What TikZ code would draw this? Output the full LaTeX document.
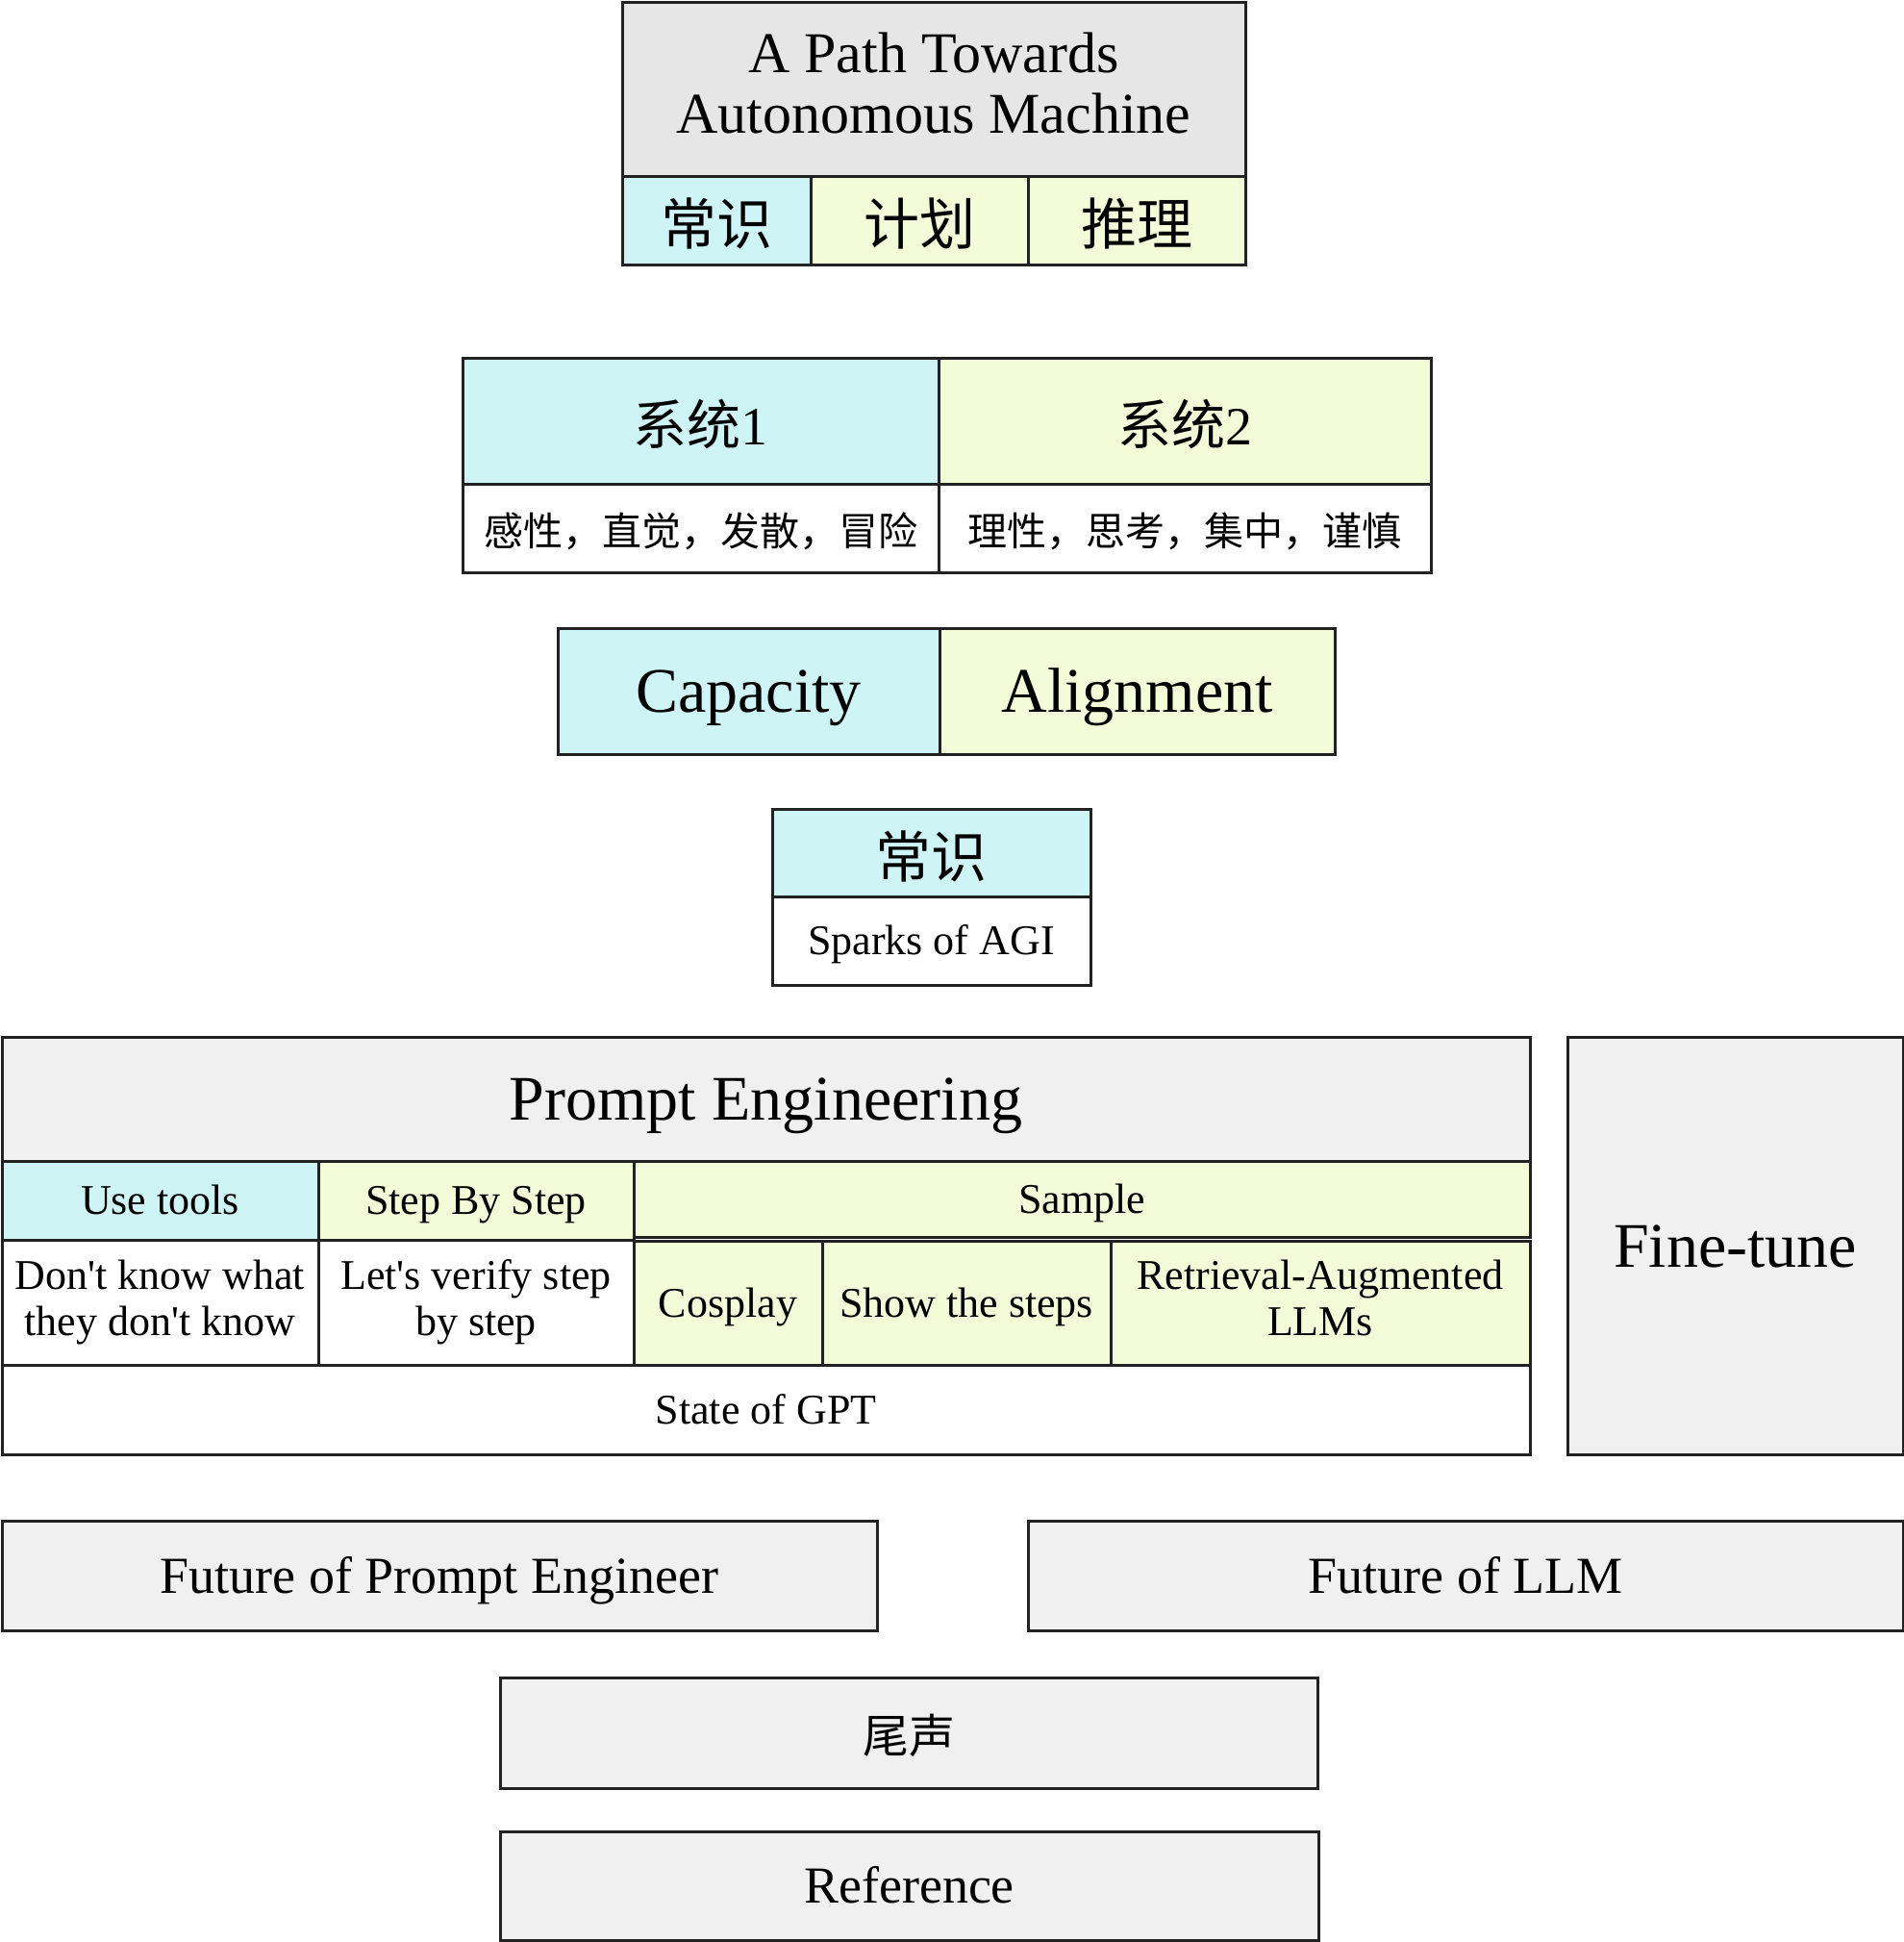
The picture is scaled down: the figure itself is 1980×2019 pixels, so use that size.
\documentclass[tikz,border=0pt]{standalone}
\usepackage{fontspec}
\setmainfont{Liberation Serif}
\newfontfamily\cjk{Noto Sans CJK SC}
\usepackage{tikz}
\usetikzlibrary{positioning}
\definecolor{capcyan}{HTML}{CFF4F6}
\definecolor{aliyellow}{HTML}{F4FBD8}
\definecolor{topgray}{HTML}{E6E6E6}
\definecolor{boxgray}{HTML}{F0F0F0}
\definecolor{edge}{HTML}{222222}
\def \cellstrut {\rule[-0.22em]{0pt}{1.12em}}
\def \cjkstrut {\rule{0pt}{1.1em}}
\def \titlestrut {\rule{0pt}{1.03em}}
\tikzstyle{cell} = [draw=edge,line width=1.5pt,rectangle,inner sep=0,align=center,execute at begin node=\cellstrut,execute at end node=\cellstrut]
\tikzstyle{cyancell} = [cell,fill=capcyan]
\tikzstyle{yelcell} = [cell,fill=aliyellow]
\tikzstyle{graycell} = [cell,fill=boxgray]
\tikzstyle{whitecell} = [cell,fill=white]
\tikzstyle{big} = [font=\fontsize{33}{34}\selectfont]
\tikzstyle{mid} = [font=\fontsize{27}{30}\selectfont]
\tikzstyle{small} = [font=\fontsize{22}{24}\selectfont]
\tikzstyle{hanzi} = [execute at begin node=\cjkstrut]
\def \u {0.5pt}

\begin{document}
\begin{tikzpicture}[x=0.5pt,y=-0.5pt]
      \useasboundingbox (0,0) rectangle (1980,2019);
      % top block
      \node[cell,fill=topgray,minimum width=648*\u,minimum height=181*\u,font=\fontsize{30}{31.5}\selectfont,execute at begin node=\titlestrut] (path) at (971,92.5) {A Path Towards\\Autonomous Machine};
      \node[cyancell,hanzi,minimum width=196*\u,minimum height=92*\u,font=\cjk\fontsize{29}{30}\selectfont] (sense) at (745,229) {常识};
      \node[yelcell,hanzi,minimum width=226*\u,minimum height=92*\u,font=\cjk\fontsize{29}{30}\selectfont] (plan) at (956,229) {计划};
      \node[yelcell,hanzi,minimum width=226*\u,minimum height=92*\u,font=\cjk\fontsize{29}{30}\selectfont] (reason) at (1182,229) {推理};
      % system 1 / system 2
      \node[cyancell,hanzi,minimum width=495*\u,minimum height=131*\u,font=\fontsize{28}{30}\selectfont] (sysa) at (728.5,437.5) {{\cjk 系统}1};
      \node[yelcell,hanzi,minimum width=512*\u,minimum height=131*\u,font=\fontsize{28}{30}\selectfont] (sysb) at (1232,437.5) {{\cjk 系统}2};
      \node[whitecell,hanzi,minimum width=495*\u,minimum height=92*\u,font=\cjk\fontsize{20.5}{22}\selectfont] (sysadesc) at (728.5,549) {感性，直觉，发散，冒险};
      \node[whitecell,hanzi,minimum width=512*\u,minimum height=92*\u,font=\cjk\fontsize{20.5}{22}\selectfont] (sysbdesc) at (1232,549) {理性，思考，集中，谨慎};
      % capacity / alignment
      \node[cyancell,big,minimum width=397*\u,minimum height=131*\u] (capacity) at (778.5,718.5) {Capacity};
      \node[yelcell,big,minimum width=411*\u,minimum height=131*\u] (alignment) at (1182.5,718.5) {Alignment};
      % sparks
      \node[cyancell,hanzi,minimum width=331*\u,minimum height=91*\u,font=\cjk\fontsize{29}{30}\selectfont] (common) at (968.5,886.5) {常识};
      \node[whitecell,small,minimum width=331*\u,minimum height=92*\u] (sparks) at (968.5,978) {Sparks of AGI};
      % prompt engineering
      \node[graycell,big,minimum width=1589*\u,minimum height=129*\u] (prompt) at (796.5,1142.5) {Prompt Engineering};
      \node[cyancell,small,minimum width=329*\u,minimum height=82*\u] (tools) at (166.5,1248) {Use tools};
      \node[yelcell,small,minimum width=328*\u,minimum height=82*\u] (stepwise) at (495,1248) {Step By Step};
      \node[yelcell,small,minimum width=932*\u,minimum height=79*\u] (sample) at (1125,1246.5) {Sample};
      \node[whitecell,small,minimum width=329*\u,minimum height=130*\u] (unknown) at (166.5,1354) {Don\textquotesingle t know what\\they don\textquotesingle t know};
      \node[whitecell,small,minimum width=328*\u,minimum height=130*\u] (verify) at (495,1354) {Let\textquotesingle s verify step\\by step};
      \node[yelcell,small,minimum width=196*\u,minimum height=129*\u] (cosplay) at (757,1354.5) {Cosplay};
      \node[yelcell,small,minimum width=300*\u,minimum height=129*\u] (showsteps) at (1005,1354.5) {Show the steps};
      \node[yelcell,small,minimum width=436*\u,minimum height=129*\u] (retrieval) at (1373,1354.5) {Retrieval-Augmented\\LLMs};
      \node[whitecell,small,minimum width=1589*\u,minimum height=93*\u] (stategpt) at (796.5,1465.5) {State of GPT};
      \node[graycell,big,minimum width=349*\u,minimum height=434*\u] (finetune) at (1804.5,1295) {Fine-tune};
      % closing rows
      \node[graycell,mid,minimum width=910*\u,minimum height=114*\u] (futprompt) at (457,1638) {Future of Prompt Engineer};
      \node[graycell,mid,minimum width=910*\u,minimum height=114*\u] (futllm) at (1524,1638) {Future of LLM};
      \node[graycell,hanzi,minimum width=850*\u,minimum height=115*\u,font=\cjk\fontsize{24}{26}\selectfont] (epilogue) at (945,1801.5) {尾声};
      \node[graycell,mid,minimum width=851*\u,minimum height=113*\u] (reference) at (945.5,1960.5) {Reference};
\end{tikzpicture}
\end{document}
